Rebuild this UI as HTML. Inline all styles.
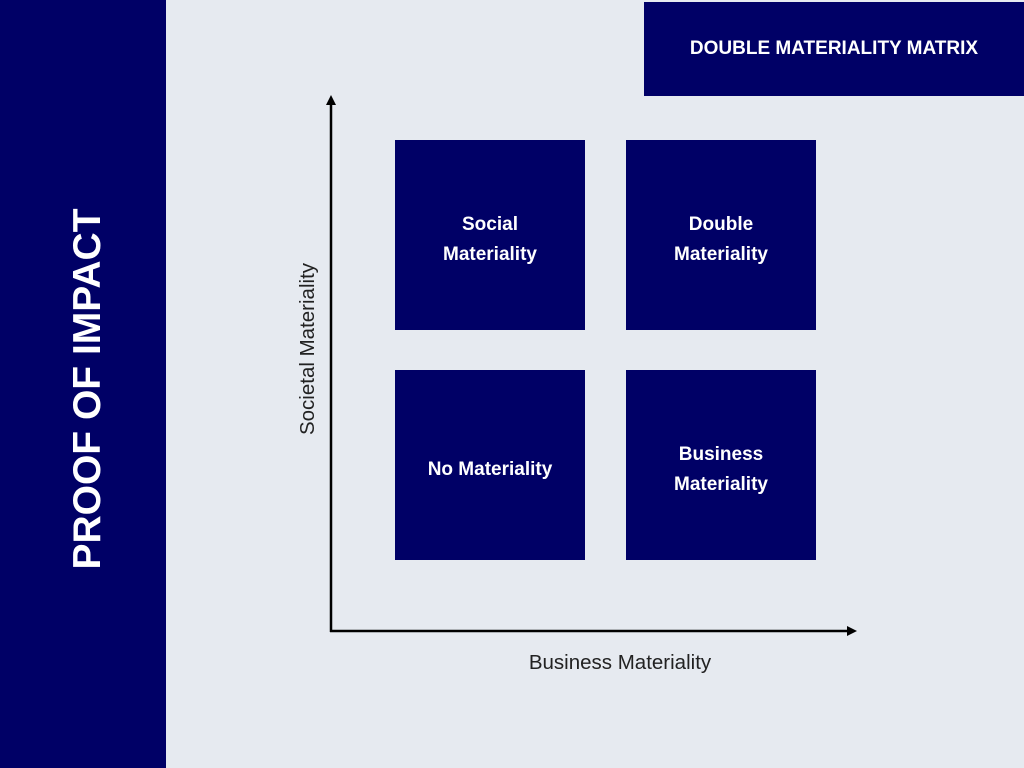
<!DOCTYPE html>
<html><head><style>
body{margin:0;width:1024px;height:768px;background:#e6eaf0;position:relative;overflow:hidden;font-family:"Liberation Sans",sans-serif}
.bar{position:absolute;left:0;top:0;width:166px;height:768px;background:#000066}
.vt{position:absolute;left:88px;top:389px;transform:translate(-50%,-50%) rotate(-90deg);color:#fff;font-weight:bold;font-size:39px;white-space:nowrap}
.title{position:absolute;left:644px;top:2px;width:380px;height:94px;background:#000066;color:#fff;font-weight:bold;font-size:19px;display:flex;align-items:center;justify-content:center}
.b{position:absolute;width:190px;height:190px;background:#000066;color:#fff;font-weight:bold;font-size:19px;display:flex;align-items:center;justify-content:center;text-align:center;line-height:30px;box-sizing:border-box;padding-top:10px}
.al{position:absolute;color:#222;font-size:20.5px;white-space:nowrap}
</style></head><body>
<div class="bar"></div>
<div class="vt">PROOF OF IMPACT</div>
<div class="title">DOUBLE MATERIALITY MATRIX</div>
<svg width="1024" height="768" style="position:absolute;left:0;top:0">
<line x1="331" y1="104" x2="331" y2="632" stroke="#000" stroke-width="2.5"/>
<polygon points="331,95 326,105 336,105" fill="#000"/>
<line x1="330" y1="631" x2="848" y2="631" stroke="#000" stroke-width="2.5"/>
<polygon points="857,631 847,626 847,636" fill="#000"/>
</svg>
<div class="b" style="left:395px;top:140px">Social<br>Materiality</div>
<div class="b" style="left:626px;top:140px">Double<br>Materiality</div>
<div class="b" style="left:395px;top:370px">No Materiality</div>
<div class="b" style="left:626px;top:370px">Business<br>Materiality</div>
<div class="al" style="left:308px;top:349px;transform:translate(-50%,-50%) rotate(-90deg)">Societal Materiality</div>
<div class="al" style="left:620px;top:663px;transform:translate(-50%,-50%)">Business Materiality</div>
</body></html>
